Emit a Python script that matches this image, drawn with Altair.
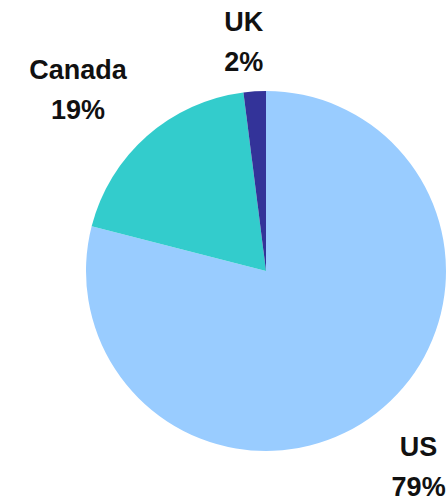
import altair as alt
import pandas as pd

countries = ["US", "Canada", "UK"]
shares = [79, 19, 2]
colors = ["#99CCFF", "#33CCCC", "#333399"]

df = pd.DataFrame({
    "country": countries,
    "share": shares,
    "order": list(range(len(countries))),
})
df["label"] = [f"{c}\n{v}%" for c, v in zip(countries, shares)]

CX, CY, R = 266, 271, 180

base = alt.Chart(df)

pie = base.mark_arc(radius=R, x=CX, y=CY, stroke=None).encode(
    theta=alt.Theta("share:Q", stack=True, scale=alt.Scale(domain=[0, 100])),
    order=alt.Order("order:Q"),
    color=alt.Color("country:N", scale=alt.Scale(domain=countries, range=colors), legend=None),
)


def label_layer(name, radius, dx, dy):
    return (
        base.transform_window(cum="sum(share)", sort=[alt.SortField("order")])
        .transform_calculate(mid="datum.cum - datum.share / 2")
        .transform_filter(alt.datum.country == name)
        .mark_text(
            radius=radius, x=CX, y=CY, dx=dx, dy=dy,
            font="Liberation Sans", fontSize=27, fontWeight="bold",
            color="#111111", lineBreak="\n", lineHeight=40,
            align="center", baseline="middle",
        )
        .encode(
            theta=alt.Theta("mid:Q", stack=None, scale=alt.Scale(domain=[0, 100])),
            text="label:N",
        )
    )


chart = alt.layer(
    pie,
    label_layer("US", 249, 0, -20),
    label_layer("Canada", 260, -16, -5),
    label_layer("UK", 228, -8, -20),
).properties(
    width=448, height=501, padding=0, autosize=alt.AutoSizeParams(type="none")
).configure_view(stroke=None).configure(background="white")

chart.save("out.html", embed_options={"renderer": "svg", "actions": False})
